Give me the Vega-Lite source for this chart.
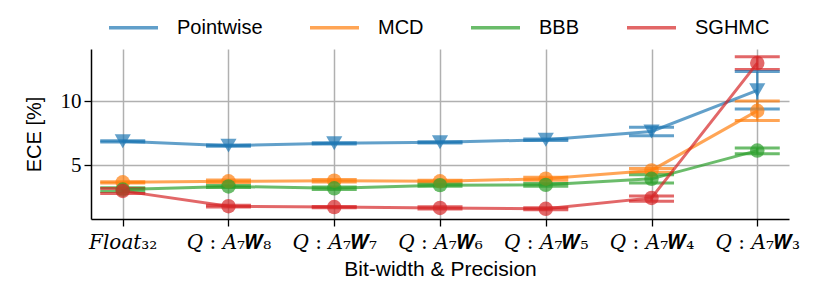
{
  "$schema": "https://vega.github.io/schema/vega-lite/v6.json",
  "width": 698,
  "height": 170,
  "autosize": {"type": "none"},
  "padding": {"left": 91, "top": 49, "right": 41, "bottom": 72},
  "background": "white",
  "config": {
    "view": {"stroke": null},
    "axis": {"gridColor": "#b0b0b0", "gridWidth": 1.5, "domainColor": "black", "domainWidth": 1.5, "tickColor": "black", "tickWidth": 1.3, "tickSize": 7}
  },
  "data": {"values": [
    {"m": "Pointwise", "x": "𝐹𝑙𝑜𝑎𝑡₃₂", "y": 6.88, "lo": 6.83, "hi": 6.93},
    {"m": "Pointwise", "x": "𝑄 : 𝐴₇𝑾₈", "y": 6.54, "lo": 6.49, "hi": 6.59},
    {"m": "Pointwise", "x": "𝑄 : 𝐴₇𝑾₇", "y": 6.72, "lo": 6.67, "hi": 6.77},
    {"m": "Pointwise", "x": "𝑄 : 𝐴₇𝑾₆", "y": 6.8, "lo": 6.75, "hi": 6.85},
    {"m": "Pointwise", "x": "𝑄 : 𝐴₇𝑾₅", "y": 7.0, "lo": 6.95, "hi": 7.05},
    {"m": "Pointwise", "x": "𝑄 : 𝐴₇𝑾₄", "y": 7.65, "lo": 7.32, "hi": 7.97},
    {"m": "Pointwise", "x": "𝑄 : 𝐴₇𝑾₃", "y": 10.87, "lo": 9.4, "hi": 12.34},
    {"m": "MCD", "x": "𝐹𝑙𝑜𝑎𝑡₃₂", "y": 3.67, "lo": 3.62, "hi": 3.72},
    {"m": "MCD", "x": "𝑄 : 𝐴₇𝑾₈", "y": 3.75, "lo": 3.65, "hi": 3.85},
    {"m": "MCD", "x": "𝑄 : 𝐴₇𝑾₇", "y": 3.8, "lo": 3.7, "hi": 3.9},
    {"m": "MCD", "x": "𝑄 : 𝐴₇𝑾₆", "y": 3.75, "lo": 3.67, "hi": 3.83},
    {"m": "MCD", "x": "𝑄 : 𝐴₇𝑾₅", "y": 3.95, "lo": 3.83, "hi": 4.07},
    {"m": "MCD", "x": "𝑄 : 𝐴₇𝑾₄", "y": 4.6, "lo": 4.45, "hi": 4.75},
    {"m": "MCD", "x": "𝑄 : 𝐴₇𝑾₃", "y": 9.26, "lo": 8.5, "hi": 10.03},
    {"m": "BBB", "x": "𝐹𝑙𝑜𝑎𝑡₃₂", "y": 3.1, "lo": 2.95, "hi": 3.25},
    {"m": "BBB", "x": "𝑄 : 𝐴₇𝑾₈", "y": 3.35, "lo": 3.27, "hi": 3.43},
    {"m": "BBB", "x": "𝑄 : 𝐴₇𝑾₇", "y": 3.2, "lo": 3.1, "hi": 3.3},
    {"m": "BBB", "x": "𝑄 : 𝐴₇𝑾₆", "y": 3.45, "lo": 3.37, "hi": 3.53},
    {"m": "BBB", "x": "𝑄 : 𝐴₇𝑾₅", "y": 3.47, "lo": 3.37, "hi": 3.57},
    {"m": "BBB", "x": "𝑄 : 𝐴₇𝑾₄", "y": 3.94, "lo": 3.62, "hi": 4.27},
    {"m": "BBB", "x": "𝑄 : 𝐴₇𝑾₃", "y": 6.15, "lo": 5.91, "hi": 6.36},
    {"m": "SGHMC", "x": "𝐹𝑙𝑜𝑎𝑡₃₂", "y": 3.0, "lo": 2.79, "hi": 3.18},
    {"m": "SGHMC", "x": "𝑄 : 𝐴₇𝑾₈", "y": 1.8, "lo": 1.73, "hi": 1.87},
    {"m": "SGHMC", "x": "𝑄 : 𝐴₇𝑾₇", "y": 1.73, "lo": 1.68, "hi": 1.78},
    {"m": "SGHMC", "x": "𝑄 : 𝐴₇𝑾₆", "y": 1.67, "lo": 1.59, "hi": 1.75},
    {"m": "SGHMC", "x": "𝑄 : 𝐴₇𝑾₅", "y": 1.6, "lo": 1.52, "hi": 1.68},
    {"m": "SGHMC", "x": "𝑄 : 𝐴₇𝑾₄", "y": 2.45, "lo": 2.19, "hi": 2.6},
    {"m": "SGHMC", "x": "𝑄 : 𝐴₇𝑾₃", "y": 13.0, "lo": 12.5, "hi": 13.5}
  ]},
  "encoding": {
    "x": {"field": "x", "type": "nominal", "sort": null,
      "scale": {"type": "point", "padding": 0.3},
      "axis": {"title": "Bit-width & Precision", "labelAngle": 0, "labelFont": "DejaVu Serif", "labelFontSize": 20, "labelColor": "black", "labelPadding": 6, "titleFont": "Liberation Sans", "titleFontSize": 21, "titleFontWeight": "normal", "titleColor": "black", "titlePadding": 6, "grid": true}
    }
  },
  "layer": [
    {
      "mark": {"type": "rule", "strokeWidth": 2.5, "opacity": 0.7},
      "encoding": {
        "y": {"field": "lo", "type": "quantitative"},
        "y2": {"field": "hi"},
        "color": {"field": "m", "type": "nominal",
          "scale": {"domain": ["Pointwise", "MCD", "BBB", "SGHMC"], "range": ["#1f77b4", "#ff7f0e", "#2ca02c", "#d62728"]},
          "legend": {"title": null, "orient": "none", "legendX": 16, "legendY": -48, "direction": "horizontal", "symbolType": "stroke", "symbolSize": 2401, "symbolStrokeWidth": 3.5, "symbolOpacity": 0.7, "labelFont": "Liberation Sans", "labelFontSize": 20, "labelColor": "black", "labelOffset": 17, "columnPadding": 40}
        }
      }
    },
    {
      "mark": {"type": "tick", "size": 45, "thickness": 3, "opacity": 0.7},
      "encoding": {"y": {"field": "lo", "type": "quantitative"}, "color": {"field": "m", "type": "nominal"}}
    },
    {
      "mark": {"type": "tick", "size": 45, "thickness": 3, "opacity": 0.7},
      "encoding": {"y": {"field": "hi", "type": "quantitative"}, "color": {"field": "m", "type": "nominal"}}
    },
    {
      "mark": {"type": "line", "strokeWidth": 3, "opacity": 0.7},
      "encoding": {
        "color": {"field": "m", "type": "nominal"},
        "y": {"field": "y", "type": "quantitative",
          "scale": {"domain": [0.8, 14.1], "nice": false, "zero": false},
          "axis": {"title": "ECE [%]", "values": [5, 10], "labelFont": "Liberation Serif", "labelFontSize": 21, "labelColor": "black", "labelPadding": 3, "titleFont": "Liberation Sans", "titleFontSize": 20, "titleFontWeight": "normal", "titleColor": "black", "titlePadding": 16, "grid": true}
        }
      }
    },
    {
      "transform": [{"filter": "datum.m === 'Pointwise'"}],
      "mark": {"type": "point", "shape": "triangle-down", "filled": true, "size": 260, "opacity": 0.7, "strokeWidth": 0, "color": "#1f77b4"},
      "encoding": {"y": {"field": "y", "type": "quantitative"}}
    },
    {
      "transform": [{"filter": "datum.m !== 'Pointwise'"}],
      "mark": {"type": "point", "shape": "circle", "filled": true, "size": 210, "opacity": 0.7, "strokeWidth": 0},
      "encoding": {
        "y": {"field": "y", "type": "quantitative"},
        "fill": {"field": "m", "type": "nominal", "legend": null,
          "scale": {"domain": ["Pointwise", "MCD", "BBB", "SGHMC"], "range": ["#1f77b4", "#ff7f0e", "#2ca02c", "#d62728"]}}
      }
    }
  ]
}
